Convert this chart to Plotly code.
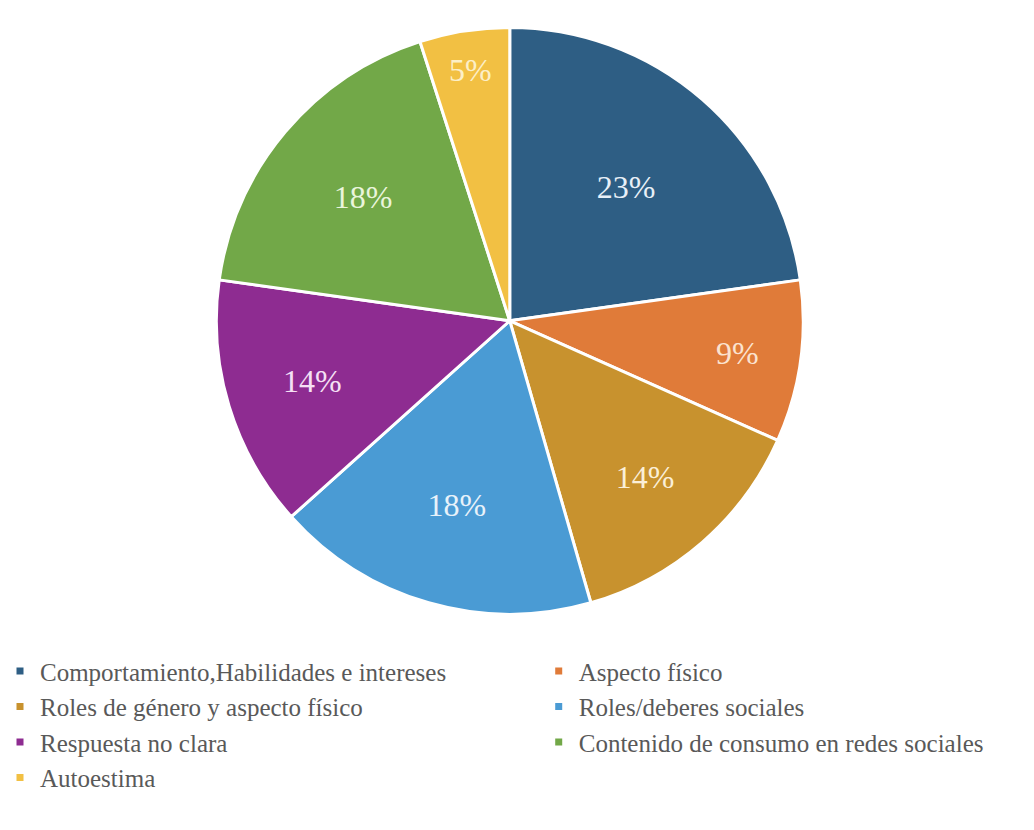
import plotly.graph_objects as go

categories = [
    "Comportamiento,Habilidades e intereses",
    "Aspecto físico",
    "Roles de género y aspecto físico",
    "Roles/deberes sociales",
    "Respuesta no clara",
    "Contenido de consumo en redes sociales",
    "Autoestima",
]
values = [23, 9, 14, 18, 14, 18, 5]
colors = ["#2E5E84", "#E07B39", "#C8922E", "#4A9BD4", "#8E2C91", "#72A848", "#F2C043"]
text_colors = ["#E8F0F8", "#FBE3D0", "#FBEFD8", "#E8F2FA", "#F5E0F5", "#EAF5DC", "#FCEFC8"]

fig = go.Figure()
fig.add_trace(
    go.Pie(
        labels=categories,
        values=values,
        sort=False,
        direction="clockwise",
        rotation=0,
        marker=dict(colors=colors, line=dict(color="white", width=3)),
        texttemplate="%{value}%",
        textposition="inside",
        insidetextorientation="horizontal",
        insidetextfont=dict(family="Liberation Serif", size=32, color=text_colors),
        domain=dict(x=[0.18, 0.806], y=[0.26, 0.967]),
        hoverinfo="label+percent",
        showlegend=False,
    )
)

# legend entries (two columns, as in the reference)
for i, (cat, col) in enumerate(zip(categories, colors)):
    fig.add_trace(
        go.Scatter(
            x=[None],
            y=[None],
            mode="markers",
            name=cat,
            marker=dict(symbol="square", size=7, color=col),
            legend="legend" if i % 2 == 0 else "legend2",
            legendgroup=f"g{i}",
            showlegend=True,
            hoverinfo="skip",
        )
    )

legend_font = dict(family="Liberation Serif", size=25, color="#595959")
fig.update_layout(
    width=1034,
    height=830,
    margin=dict(l=0, r=0, t=0, b=0),
    paper_bgcolor="white",
    plot_bgcolor="white",
    xaxis=dict(visible=False),
    yaxis=dict(visible=False),
    legend=dict(
        orientation="v",
        x=0.0,
        y=0.219,
        xanchor="left",
        yanchor="top",
        font=legend_font,
        itemwidth=30,
        tracegroupgap=0,
        bgcolor="rgba(0,0,0,0)",
    ),
    legend2=dict(
        orientation="v",
        x=0.521,
        y=0.219,
        xanchor="left",
        yanchor="top",
        font=legend_font,
        itemwidth=30,
        tracegroupgap=0,
        bgcolor="rgba(0,0,0,0)",
    ),
)

fig.write_html("out.html")
